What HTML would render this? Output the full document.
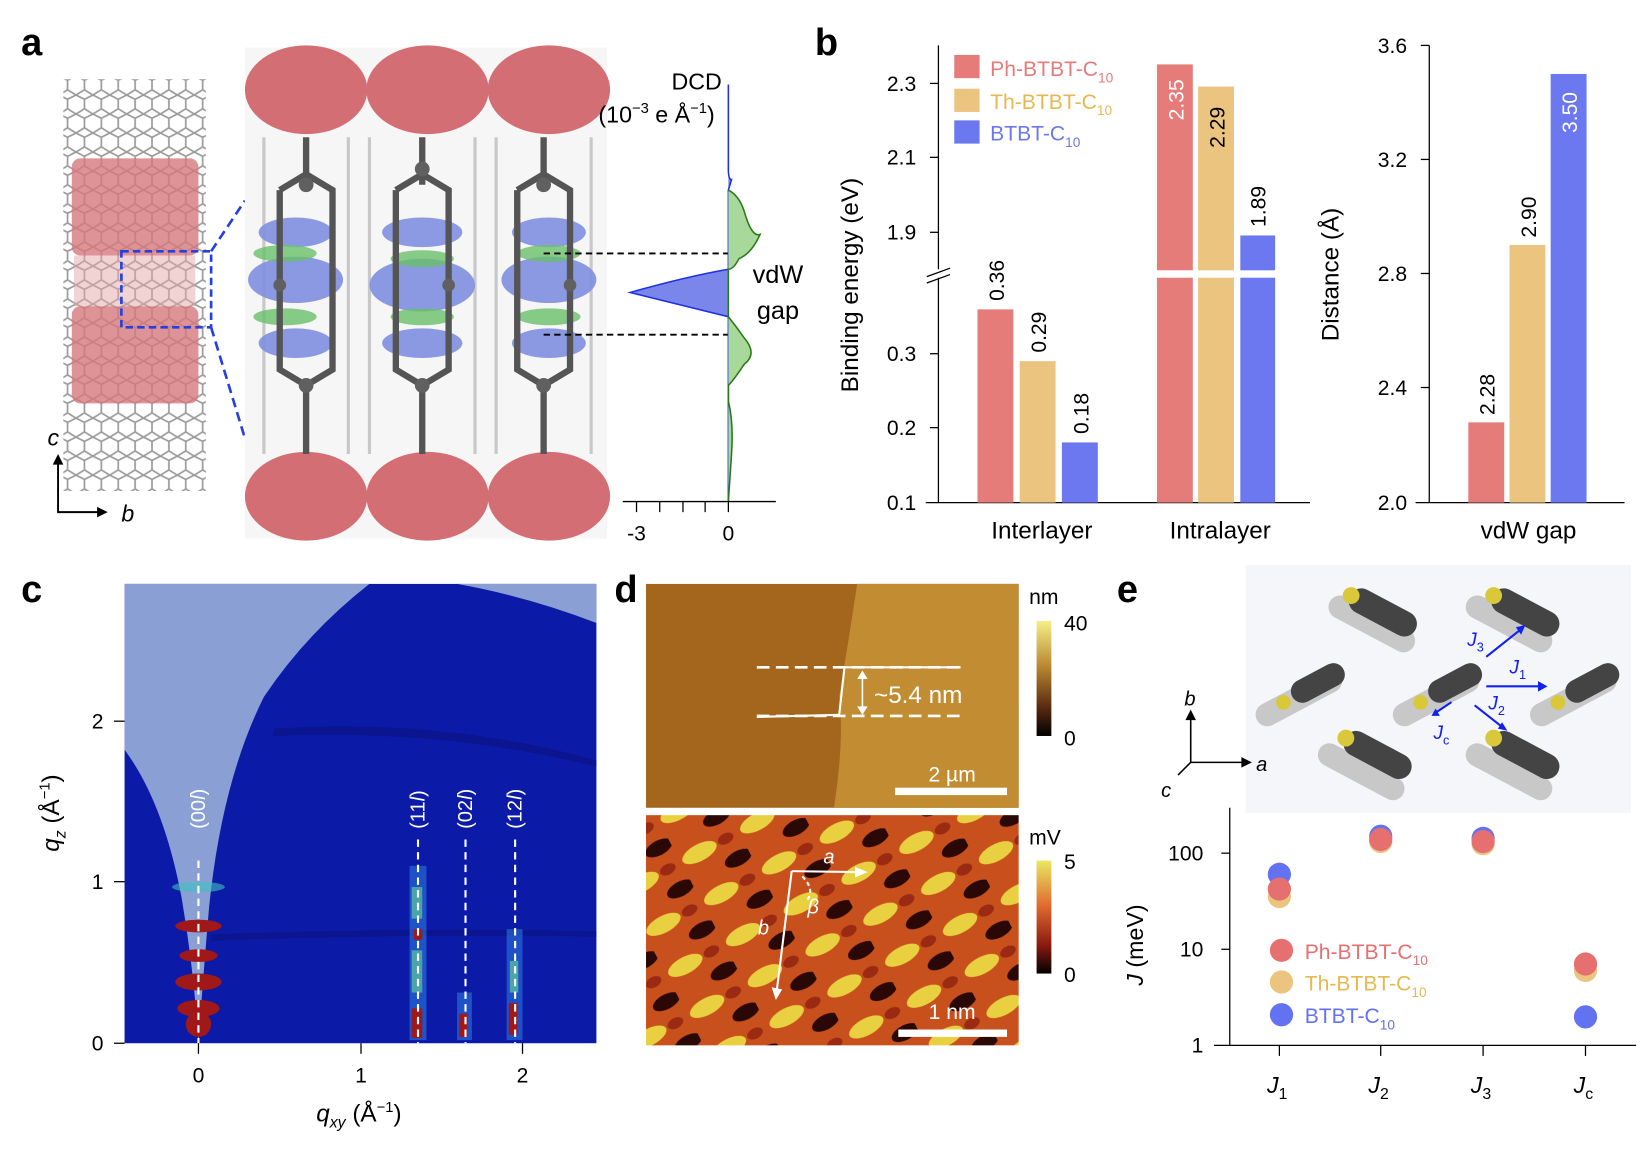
<!DOCTYPE html>
<html><head><meta charset="utf-8"><style>
html,body{margin:0;padding:0;background:#fff}
svg{display:block;font-family:"Liberation Sans",sans-serif}
</style></head><body>
<svg width="1652" height="1152" viewBox="0 0 1565 1091" preserveAspectRatio="none" xmlns="http://www.w3.org/2000/svg">
<defs>
<pattern id="lat" width="16" height="18" patternUnits="userSpaceOnUse">
<path d="M0 4 L8 0 L16 4 M8 0 L8 -4 M0 4 L0 13 L8 18 L16 13 L16 4" fill="none" stroke="#9a9a9a" stroke-width="1.6"/>
</pattern>
<linearGradient id="cb1" x1="0" y1="0" x2="0" y2="1"><stop offset="0" stop-color="#f4f08a"/><stop offset="0.4" stop-color="#b88630"/><stop offset="0.75" stop-color="#5a2a10"/><stop offset="1" stop-color="#000"/></linearGradient>
<linearGradient id="cb2" x1="0" y1="0" x2="0" y2="1"><stop offset="0" stop-color="#e8e860"/><stop offset="0.4" stop-color="#e06a30"/><stop offset="0.75" stop-color="#8a1a10"/><stop offset="1" stop-color="#000"/></linearGradient>
<pattern id="stm" width="62" height="44" patternUnits="userSpaceOnUse" patternTransform="rotate(-28)">
<rect width="62" height="44" fill="#c8501c"/>
<ellipse cx="20" cy="12" rx="18" ry="8" fill="#e8d040"/>
<ellipse cx="50" cy="34" rx="14" ry="7" fill="#2a0806"/>
<ellipse cx="48" cy="12" rx="8" ry="5" fill="#9a2a12"/>
</pattern>
</defs>

<!-- Panel a -->
<text x="20" y="52" font-size="36" font-weight="bold">a</text>
<rect x="60" y="75" width="135" height="390" fill="url(#lat)"/>
<rect x="68" y="150" width="120" height="92" fill="#d6787c" opacity="0.8" rx="8"/>
<rect x="68" y="290" width="120" height="92" fill="#d6787c" opacity="0.8" rx="8"/>
<rect x="70" y="242" width="115" height="48" fill="#e3a7aa" opacity="0.5"/>
<rect x="115" y="238" width="85" height="72" fill="none" stroke="#2540e0" stroke-width="2.5" stroke-dasharray="7,4"/>
<line x1="200" y1="238" x2="232" y2="190" stroke="#2540e0" stroke-width="2.5" stroke-dasharray="9,5"/>
<line x1="200" y1="310" x2="232" y2="415" stroke="#2540e0" stroke-width="2.5" stroke-dasharray="9,5"/>
<text x="45" y="422" font-size="22" font-style="italic">c</text>
<path d="M55 432 V485 H100" fill="none" stroke="#000" stroke-width="1.8"/>
<path d="M50 440 L55 430 L60 440 Z M92 480 L102 485 L92 490 Z"/>
<text x="115" y="494" font-size="22" font-style="italic">b</text>

<rect x="232" y="45" width="343" height="465" fill="#f6f6f6"/>
<g fill="#d36e74">
<ellipse cx="290" cy="85" rx="58" ry="42"/><ellipse cx="405" cy="85" rx="58" ry="42"/><ellipse cx="520" cy="85" rx="58" ry="42"/>
<ellipse cx="290" cy="470" rx="58" ry="42"/><ellipse cx="405" cy="470" rx="58" ry="42"/><ellipse cx="520" cy="470" rx="58" ry="42"/>
</g>
<g stroke="#c8c8c8" stroke-width="3" fill="none">
<path d="M250 130 V430 M330 130 V430 M350 130 V430 M450 130 V430 M470 130 V430 M560 130 V430"/>
</g>
<g fill="#8090e0" opacity="0.9">
<ellipse cx="280" cy="265" rx="45" ry="22"/><ellipse cx="400" cy="270" rx="50" ry="25"/><ellipse cx="520" cy="265" rx="45" ry="22"/>
<ellipse cx="280" cy="220" rx="35" ry="14"/><ellipse cx="400" cy="220" rx="38" ry="14"/><ellipse cx="520" cy="220" rx="35" ry="14"/>
<ellipse cx="280" cy="325" rx="35" ry="14"/><ellipse cx="400" cy="325" rx="38" ry="14"/><ellipse cx="520" cy="325" rx="35" ry="14"/>
</g>
<g fill="#6ac06a" opacity="0.8">
<ellipse cx="270" cy="240" rx="30" ry="8"/><ellipse cx="400" cy="245" rx="30" ry="8"/><ellipse cx="520" cy="240" rx="30" ry="8"/>
<ellipse cx="270" cy="300" rx="30" ry="8"/><ellipse cx="400" cy="300" rx="30" ry="8"/><ellipse cx="520" cy="300" rx="30" ry="8"/>
</g>
<g stroke="#555" stroke-width="6" fill="none">
<path d="M290 130 V175 M265 180 L290 165 L315 180 V350 L290 365 L265 350 V180 M290 365 V430"/>
<path d="M400 130 V175 M375 180 L400 165 L425 180 V350 L400 365 L375 350 V180 M400 365 V430"/>
<path d="M515 130 V175 M490 180 L515 165 L540 180 V350 L515 365 L490 350 V180 M515 365 V430"/>
</g>
<g fill="#606060"><circle cx="290" cy="175" r="7"/><circle cx="400" cy="160" r="7"/><circle cx="515" cy="175" r="7"/><circle cx="290" cy="365" r="7"/><circle cx="400" cy="365" r="7"/><circle cx="515" cy="365" r="7"/><circle cx="265" cy="270" r="6"/><circle cx="425" cy="270" r="6"/><circle cx="540" cy="270" r="6"/></g>
<line x1="515" y1="240" x2="700" y2="240" stroke="#000" stroke-width="1.8" stroke-dasharray="6,4"/>
<line x1="515" y1="317" x2="700" y2="317" stroke="#000" stroke-width="1.8" stroke-dasharray="6,4"/>

<path d="M690 80 L690 160 Q690 170 693 170 L690 180 L690 255 Q650 262 597 277 Q650 290 690 300 L690 475" fill="#7a86ea" stroke="#2030e0" stroke-width="1.5"/>
<path d="M690 180 Q700 185 705 200 Q712 225 720 222 Q712 240 700 245 Q695 255 690 255 L690 300 Q698 310 705 320 Q718 335 705 345 Q695 360 690 365 L690 380 Q695 400 693 430 L690 475" fill="#a8d89a" stroke="#2a7a1a" stroke-width="1.5"/>
<line x1="590" y1="475" x2="735" y2="475" stroke="#000" stroke-width="1.2"/>
<g stroke="#000" stroke-width="1.2"><line x1="603" y1="475" x2="603" y2="485"/><line x1="625" y1="475" x2="625" y2="485"/><line x1="647" y1="475" x2="647" y2="485"/><line x1="668" y1="475" x2="668" y2="485"/><line x1="690" y1="475" x2="690" y2="485"/></g>
<text x="603" y="512" font-size="20" text-anchor="middle">-3</text>
<text x="690" y="512" font-size="20" text-anchor="middle">0</text>
<text x="660" y="85" font-size="22" text-anchor="middle">DCD</text>
<text x="622" y="116" font-size="22" text-anchor="middle">(10<tspan font-size="14" dy="-9">−3</tspan><tspan dy="9"> e Å</tspan><tspan font-size="14" dy="-9">−1</tspan><tspan dy="9">)</tspan></text>
<text x="737" y="268" font-size="24" text-anchor="middle">vdW</text>
<text x="737" y="302" font-size="24" text-anchor="middle">gap</text>

<!-- Panel b -->
<text x="772" y="52" font-size="36" font-weight="bold">b</text>
<g stroke="#000" stroke-width="1.2">
<line x1="889" y1="43" x2="889" y2="255"/><line x1="889" y1="263" x2="889" y2="476"/>
<line x1="877" y1="476" x2="1241" y2="476"/>
<line x1="881" y1="79" x2="889" y2="79"/><line x1="881" y1="149" x2="889" y2="149"/><line x1="881" y1="220" x2="889" y2="220"/>
<line x1="881" y1="335" x2="889" y2="335"/><line x1="881" y1="405" x2="889" y2="405"/>
<line x1="878" y1="262" x2="900" y2="254"/><line x1="878" y1="268" x2="900" y2="260"/>
</g>
<g font-size="20" text-anchor="end">
<text x="868" y="86">2.3</text><text x="868" y="156">2.1</text><text x="868" y="227">1.9</text>
<text x="868" y="342">0.3</text><text x="868" y="412">0.2</text><text x="868" y="483">0.1</text>
</g>
<text transform="translate(813,270) rotate(-90)" font-size="23" text-anchor="middle">Binding energy (eV)</text>
<rect x="926" y="293" width="34" height="183" fill="#e67c7a"/>
<rect x="966" y="342" width="34" height="134" fill="#ebc47f"/>
<rect x="1006" y="419" width="34" height="57" fill="#6b78f0"/>
<rect x="1096" y="61" width="34" height="415" fill="#e67c7a"/>
<rect x="1135" y="82" width="34" height="394" fill="#ebc47f"/>
<rect x="1175" y="223" width="33" height="253" fill="#6b78f0"/>
<rect x="1090" y="256" width="125" height="7" fill="#fff"/>
<g stroke="#000" stroke-width="1.2">
<line x1="1354" y1="43" x2="1354" y2="476"/><line x1="1341" y1="476" x2="1539" y2="476"/>
<line x1="1346" y1="43" x2="1354" y2="43"/><line x1="1346" y1="151" x2="1354" y2="151"/><line x1="1346" y1="259" x2="1354" y2="259"/><line x1="1346" y1="367" x2="1354" y2="367"/>
</g>
<g font-size="20" text-anchor="end">
<text x="1333" y="50">3.6</text><text x="1333" y="158">3.2</text><text x="1333" y="266">2.8</text><text x="1333" y="374">2.4</text><text x="1333" y="483">2.0</text>
</g>
<text transform="translate(1268,260) rotate(-90)" font-size="23" text-anchor="middle">Distance (Å)</text>
<rect x="1391" y="400" width="34" height="76" fill="#e67c7a"/>
<rect x="1430" y="232" width="34" height="244" fill="#ebc47f"/>
<rect x="1469" y="70" width="34" height="406" fill="#6b78f0"/>
<g font-size="20">
<text transform="translate(951,285) rotate(-90)">0.36</text>
<text transform="translate(991,334) rotate(-90)">0.29</text>
<text transform="translate(1031,411) rotate(-90)">0.18</text>
<text transform="translate(1121,114) rotate(-90)" fill="#fff">2.35</text>
<text transform="translate(1160,140) rotate(-90)">2.29</text>
<text transform="translate(1199,215) rotate(-90)">1.89</text>
<text transform="translate(1494,126) rotate(-90)" fill="#fff">3.50</text>
<text transform="translate(1455,225) rotate(-90)">2.90</text>
<text transform="translate(1416,393) rotate(-90)">2.28</text>
</g>
<rect x="904" y="52" width="24" height="22" fill="#e67c7a"/>
<rect x="904" y="84" width="24" height="22" fill="#ebc47f"/>
<rect x="904" y="114" width="24" height="22" fill="#6b78f0"/>
<g font-size="20">
<text x="938" y="72" fill="#e67c7a">Ph-BTBT-C<tspan font-size="13" dy="6">10</tspan></text>
<text x="938" y="103" fill="#e8b850">Th-BTBT-C<tspan font-size="13" dy="6">10</tspan></text>
<text x="938" y="133" fill="#6b78f0">BTBT-C<tspan font-size="13" dy="6">10</tspan></text>
</g>
<text x="987" y="510" font-size="23" text-anchor="middle">Interlayer</text>
<text x="1156" y="510" font-size="23" text-anchor="middle">Intralayer</text>
<text x="1448" y="510" font-size="23" text-anchor="middle">vdW  gap</text>

<!-- Panel c -->
<text x="20" y="570" font-size="36" font-weight="bold">c</text>
<rect x="118" y="553" width="447" height="435" fill="#0c1aa8"/>
<path d="M118 553 L350 553 Q290 600 250 660 Q210 740 198 860 Q192 930 188 988 Q184 920 172 850 Q155 760 118 710 Z" fill="#8aa0d4"/>
<path d="M433 553 L565 553 L565 590 Q500 565 433 553 Z" fill="#8aa0d4"/>
<g fill="#0a1488" opacity="0.8"><path d="M260 690 Q420 680 565 720 L565 726 Q420 690 258 697 Z"/><path d="M200 885 Q380 878 565 882 L565 887 Q380 884 200 891 Z"/></g>
<g opacity="0.55">
<rect x="388" y="820" width="16" height="165" fill="#2e80e0"/>
<rect x="433" y="940" width="14" height="45" fill="#2e80e0"/>
<rect x="480" y="880" width="15" height="105" fill="#2e80e0"/>
</g>
<g fill="#60c8a0" opacity="0.7"><rect x="390" y="840" width="10" height="30"/><rect x="390" y="900" width="10" height="40"/><rect x="483" y="910" width="8" height="30"/></g>
<g fill="#a01818">
<rect x="390" y="955" width="10" height="28"/><rect x="392" y="880" width="8" height="10"/><rect x="482" y="950" width="8" height="30"/><rect x="435" y="960" width="8" height="22"/>
<ellipse cx="188" cy="930" rx="22" ry="8"/><ellipse cx="188" cy="955" rx="20" ry="8"/><ellipse cx="188" cy="905" rx="18" ry="6"/><ellipse cx="188" cy="877" rx="22" ry="6"/><ellipse cx="188" cy="970" rx="12" ry="12"/>
</g>
<ellipse cx="188" cy="840" rx="25" ry="5" fill="#40c0c0" opacity="0.6"/>
<g stroke="#fff" stroke-width="2" stroke-dasharray="7,5">
<line x1="188" y1="815" x2="188" y2="988"/><line x1="396" y1="795" x2="396" y2="988"/><line x1="441" y1="795" x2="441" y2="988"/><line x1="488" y1="795" x2="488" y2="988"/>
</g>
<g font-size="19" fill="#fff">
<text transform="translate(194,785) rotate(-90)">(00<tspan font-style="italic">l</tspan>)</text>
<text transform="translate(402,785) rotate(-90)">(11<tspan font-style="italic">l</tspan>)</text>
<text transform="translate(447,785) rotate(-90)">(02<tspan font-style="italic">l</tspan>)</text>
<text transform="translate(494,785) rotate(-90)">(12<tspan font-style="italic">l</tspan>)</text>
</g>
<g stroke="#000" stroke-width="1.2">
<line x1="108" y1="988" x2="118" y2="988"/><line x1="108" y1="835" x2="118" y2="835"/><line x1="108" y1="683" x2="118" y2="683"/>
<line x1="188" y1="988" x2="188" y2="998"/><line x1="342" y1="988" x2="342" y2="998"/><line x1="495" y1="988" x2="495" y2="998"/>
</g>
<g font-size="20" text-anchor="end"><text x="98" y="995">0</text><text x="98" y="842">1</text><text x="98" y="690">2</text></g>
<g font-size="20" text-anchor="middle"><text x="188" y="1025">0</text><text x="342" y="1025">1</text><text x="495" y="1025">2</text></g>
<text transform="translate(56,770) rotate(-90)" font-size="23" text-anchor="middle"><tspan font-style="italic">q</tspan><tspan font-size="15" font-style="italic" dy="6">z</tspan><tspan dy="-6"> (Å</tspan><tspan font-size="14" dy="-9">−1</tspan><tspan dy="9">)</tspan></text>
<text x="340" y="1062" font-size="23" text-anchor="middle"><tspan font-style="italic">q</tspan><tspan font-size="15" font-style="italic" dy="6">xy</tspan><tspan dy="-6"> (Å</tspan><tspan font-size="14" dy="-9">−1</tspan><tspan dy="9">)</tspan></text>

<!-- Panel d -->
<text x="582" y="570" font-size="36" font-weight="bold">d</text>
<rect x="612" y="553" width="353" height="212" fill="#a4661c"/>
<path d="M812 553 L965 553 L965 765 L790 765 Q800 700 795 660 Q805 600 812 553 Z" fill="#c28c33"/>
<g stroke="#fff" stroke-width="2.5" fill="none">
<line x1="717" y1="632" x2="910" y2="632" stroke-dasharray="12,6"/>
<line x1="717" y1="678" x2="910" y2="678" stroke-dasharray="12,6"/>
<path d="M717 679 L795 677 L800 632 L910 632" stroke-width="2"/>
<line x1="817" y1="637" x2="817" y2="675" stroke-width="1.5"/>
</g>
<path d="M812 643 L817 635 L822 643 Z M812 669 L817 677 L822 669 Z" fill="#fff"/>
<text x="828" y="666" font-size="23" fill="#fff">~5.4 nm</text>
<rect x="848" y="746" width="106" height="7" fill="#fff"/>
<text x="902" y="740" font-size="20" fill="#fff" text-anchor="middle">2 µm</text>
<rect x="612" y="772" width="353" height="218" fill="url(#stm)"/>
<g stroke="#fff" stroke-width="2" fill="none">
<path d="M750 825 L818 826"/><path d="M750 825 L735 945"/><path d="M760 830 Q772 842 765 852" stroke-dasharray="4,3"/>
</g>
<path d="M810 821 L822 826 L810 831 Z M731 935 L735 947 L741 937 Z" fill="#fff"/>
<text x="780" y="818" font-size="19" fill="#fff" font-style="italic">a</text>
<text x="718" y="885" font-size="19" fill="#fff" font-style="italic">b</text>
<text x="765" y="865" font-size="19" fill="#fff" font-style="italic">β</text>
<rect x="851" y="975" width="103" height="7" fill="#fff"/>
<text x="902" y="965" font-size="20" fill="#fff" text-anchor="middle">1 nm</text>
<rect x="982" y="588" width="14" height="109" fill="url(#cb1)"/>
<rect x="982" y="815" width="14" height="107" fill="url(#cb2)"/>
<g font-size="20">
<text x="975" y="572">nm</text><text x="1008" y="597">40</text><text x="1008" y="706">0</text>
<text x="975" y="800">mV</text><text x="1008" y="823">5</text><text x="1008" y="930">0</text>
</g>

<!-- Panel e -->
<text x="1058" y="570" font-size="36" font-weight="bold">e</text>
<rect x="1180" y="535" width="365" height="235" fill="#f5f6fa"/>
<g>
<g transform="translate(1300,590) rotate(28)"><rect x="-45" y="-10" width="90" height="22" rx="11" fill="#c8c8c8"/></g>
<g transform="translate(1310,580) rotate(28)"><rect x="-35" y="-12" width="70" height="24" rx="12" fill="#444"/><circle cx="-34" cy="0" r="8" fill="#d8c83a"/></g>
<g transform="translate(1430,590) rotate(28)"><rect x="-45" y="-10" width="90" height="22" rx="11" fill="#c8c8c8"/></g>
<g transform="translate(1445,580) rotate(28)"><rect x="-35" y="-12" width="70" height="24" rx="12" fill="#444"/><circle cx="-34" cy="0" r="8" fill="#d8c83a"/></g>
<g transform="translate(1230,660) rotate(-28)"><rect x="-45" y="-10" width="90" height="22" rx="11" fill="#c8c8c8"/><rect x="-5" y="-14" width="55" height="22" rx="11" fill="#444"/><circle cx="-15" cy="-2" r="7" fill="#d8c83a"/></g>
<g transform="translate(1360,660) rotate(-28)"><rect x="-45" y="-10" width="90" height="22" rx="11" fill="#c8c8c8"/><rect x="-5" y="-14" width="55" height="22" rx="11" fill="#444"/><circle cx="-15" cy="-2" r="7" fill="#d8c83a"/></g>
<g transform="translate(1490,660) rotate(-28)"><rect x="-45" y="-10" width="90" height="22" rx="11" fill="#c8c8c8"/><rect x="-5" y="-14" width="55" height="22" rx="11" fill="#444"/><circle cx="-15" cy="-2" r="7" fill="#d8c83a"/></g>
<g transform="translate(1290,730) rotate(28)"><rect x="-45" y="-10" width="90" height="22" rx="11" fill="#c8c8c8"/></g>
<g transform="translate(1305,715) rotate(28)"><rect x="-35" y="-12" width="70" height="24" rx="12" fill="#444"/><circle cx="-34" cy="0" r="8" fill="#d8c83a"/></g>
<g transform="translate(1430,730) rotate(28)"><rect x="-45" y="-10" width="90" height="22" rx="11" fill="#c8c8c8"/></g>
<g transform="translate(1445,715) rotate(28)"><rect x="-35" y="-12" width="70" height="24" rx="12" fill="#444"/><circle cx="-34" cy="0" r="8" fill="#d8c83a"/></g>
</g>
<g stroke="#1020f0" stroke-width="2" fill="none">
<line x1="1408" y1="622" x2="1442" y2="595"/><line x1="1408" y1="650" x2="1462" y2="650"/><line x1="1397" y1="668" x2="1425" y2="690"/><line x1="1375" y1="665" x2="1360" y2="675"/>
</g>
<path d="M1445 592 L1436 594 L1441 601 Z M1466 650 L1457 645 L1457 655 Z M1428 692 L1419 690 L1423 684 Z M1356 678 L1364 678 L1360 671 Z" fill="#1020f0"/>
<g fill="#1020f0" font-size="18" font-style="italic">
<text x="1390" y="612">J<tspan font-size="12" font-style="normal" dy="5">3</tspan></text>
<text x="1430" y="638">J<tspan font-size="12" font-style="normal" dy="5">1</tspan></text>
<text x="1410" y="672">J<tspan font-size="12" font-style="normal" dy="5">2</tspan></text>
<text x="1358" y="700">J<tspan font-size="12" font-style="normal" dy="5">c</tspan></text>
</g>
<path d="M1128 722 V678 M1128 722 H1180 M1128 722 L1116 734" stroke="#000" stroke-width="1.5" fill="none"/>
<path d="M1123 682 L1128 672 L1133 682 Z M1176 717 L1186 722 L1176 727 Z" fill="#000"/>
<text x="1122" y="668" font-size="19" font-style="italic">b</text>
<text x="1190" y="730" font-size="19" font-style="italic">a</text>
<text x="1100" y="755" font-size="19" font-style="italic">c</text>
<g stroke="#000" stroke-width="1.2">
<line x1="1165" y1="765" x2="1165" y2="990"/><line x1="1150" y1="990" x2="1550" y2="990"/>
<line x1="1157" y1="808" x2="1165" y2="808"/><line x1="1157" y1="899" x2="1165" y2="899"/>
<line x1="1212" y1="990" x2="1212" y2="1000"/><line x1="1308" y1="990" x2="1308" y2="1000"/><line x1="1405" y1="990" x2="1405" y2="1000"/><line x1="1502" y1="990" x2="1502" y2="1000"/>
</g>
<g font-size="20" text-anchor="end"><text x="1140" y="815">100</text><text x="1140" y="906">10</text><text x="1140" y="997">1</text></g>
<g font-size="22" font-style="italic" text-anchor="middle">
<text x="1210" y="1035">J<tspan font-size="15" font-style="normal" dy="6">1</tspan></text>
<text x="1306" y="1035">J<tspan font-size="15" font-style="normal" dy="6">2</tspan></text>
<text x="1403" y="1035">J<tspan font-size="15" font-style="normal" dy="6">3</tspan></text>
<text x="1500" y="1035">J<tspan font-size="15" font-style="normal" dy="6">c</tspan></text>
</g>
<text transform="translate(1083,895) rotate(-90)" font-size="22" text-anchor="middle"><tspan font-style="italic">J</tspan> (meV)</text>
<g>
<circle cx="1212" cy="828" r="11" fill="#6272f0"/><circle cx="1212" cy="849" r="11" fill="#ebc47f"/><circle cx="1212" cy="842" r="11" fill="#e67070"/>
<circle cx="1308" cy="792" r="11" fill="#6272f0"/><circle cx="1308" cy="797" r="11" fill="#ebc47f"/><circle cx="1308" cy="795" r="11" fill="#e67070"/>
<circle cx="1405" cy="794" r="11" fill="#6272f0"/><circle cx="1405" cy="799" r="11" fill="#ebc47f"/><circle cx="1405" cy="797" r="11" fill="#e67070"/>
<circle cx="1502" cy="919" r="11" fill="#ebc47f"/><circle cx="1502" cy="913" r="11" fill="#e67070"/><circle cx="1502" cy="963" r="11" fill="#6272f0"/>
<circle cx="1214" cy="900" r="11" fill="#e67070"/><circle cx="1214" cy="930" r="11" fill="#ebc47f"/><circle cx="1214" cy="961" r="11" fill="#6272f0"/>
</g>
<g font-size="20">
<text x="1236" y="908" fill="#e67070">Ph-BTBT-C<tspan font-size="13" dy="6">10</tspan></text>
<text x="1236" y="938" fill="#e8b850">Th-BTBT-C<tspan font-size="13" dy="6">10</tspan></text>
<text x="1236" y="969" fill="#6272f0">BTBT-C<tspan font-size="13" dy="6">10</tspan></text>
</g>
</svg>
</body></html>
